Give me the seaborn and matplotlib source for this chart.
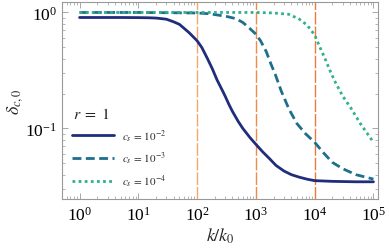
import matplotlib
matplotlib.use('Agg')
import matplotlib.pyplot as plt
import pandas as pd
import seaborn as sns

# data (log-log)
k_a = [1, 5, 10, 15, 20, 30, 40, 50, 60, 73, 85, 100, 120, 150, 180, 220, 260,
       300, 350, 400, 500, 600, 800, 1000, 1300, 1700, 2200, 3000, 4000, 5500,
       7500, 10000, 20000, 50000, 100000]
d_a = [0.905, 0.905, 0.903, 0.90, 0.895, 0.875, 0.83, 0.79, 0.73, 0.67, 0.62,
       0.57, 0.50, 0.40, 0.33, 0.26, 0.22, 0.19, 0.16, 0.14, 0.115, 0.10, 0.083,
       0.073, 0.063, 0.055, 0.048, 0.043, 0.040, 0.038, 0.0365, 0.0355, 0.035,
       0.0347, 0.0347]

k_b = [1, 10, 100, 160, 235, 330, 455, 600, 760, 1000, 1200, 1500, 1800, 2150,
       2700, 3650, 5000, 7000, 10000, 14000, 20000, 30000, 50000, 100000]
d_b = [1.0, 1.0, 0.99, 0.975, 0.947, 0.92, 0.885, 0.82, 0.74, 0.65, 0.57, 0.46,
       0.36, 0.29, 0.21, 0.147, 0.11, 0.09, 0.076, 0.062, 0.051, 0.045, 0.040,
       0.0366]

k_c = [1, 10, 100, 1000, 2000, 3600, 5400, 7400, 10000, 12300, 15000, 18500,
       22500, 30000, 42000, 60000, 100000]
d_c = [1.0, 1.0, 1.0, 1.0, 0.99, 0.965, 0.88, 0.78, 0.64, 0.50, 0.40, 0.31,
       0.25, 0.19, 0.148, 0.11, 0.076]

labels = [r'$c_s\,=\,10^{-2}$', r'$c_s\,=\,10^{-3}$', r'$c_s\,=\,10^{-4}$']
vlines = [100, 1000, 10000]

sns.set_theme(style='ticks')
plt.rcParams['font.family'] = ['Liberation Serif', 'DejaVu Serif']
plt.rcParams['mathtext.fontset'] = 'stix'

fig = plt.figure(figsize=(3.89, 2.53), dpi=100)
ax = fig.add_axes([0.159, 0.209, 0.813, 0.779])

for x, c in zip(vlines, ['#f6a86a', '#f2894a', '#ee7a38']):
    ax.axvline(x, color=c, lw=1.0, dashes=(9, 1.5), zorder=1)

sns.lineplot(x=k_a, y=d_a, ax=ax, color='#1f2d7b', lw=2.0, label=labels[0])
sns.lineplot(x=k_b, y=d_b, ax=ax, color='#1e6f8c', lw=2.0, label=labels[1])
ax.lines[-1].set_dashes((3.2, 1.6))
sns.lineplot(x=k_c, y=d_c, ax=ax, color='#2fb08e', lw=2.0, label=labels[2])
ax.lines[-1].set_dashes((1, 1.2))

ax.set_xscale('log')
ax.set_yscale('log')
ax.set_xlim(0.5, 1.2e5)
ax.set_ylim(0.0246, 1.23)
ax.set_xticks([1, 10, 100, 1000, 10000, 100000])

ax.set_xlabel(r'$k/k_0$', fontsize=13, labelpad=1)
ax.set_ylabel(r'$\delta_{c,0}$', fontsize=13, labelpad=0)

for s in ax.spines.values():
    s.set_color('#999999')
    s.set_linewidth(0.8)
ax.tick_params(which='both', direction='in', top=True, right=True,
               color='#999999', labelsize=12.5, labelcolor='black')
ax.tick_params(which='major', length=4, width=0.6)
ax.tick_params(which='minor', length=2, width=0.5)
ax.tick_params(axis='x', pad=5)

leg = ax.legend(loc='lower left', bbox_to_anchor=(0.0, 0.0), frameon=False,
                fontsize=8, handlelength=3.8, labelspacing=0.55,
                handletextpad=0.7, borderaxespad=0.5)
ax.text(0.035, 0.43, r'$r\;=\;1$', transform=ax.transAxes, fontsize=11.5,
        va='center')

fig.savefig('out.png', dpi=100)
